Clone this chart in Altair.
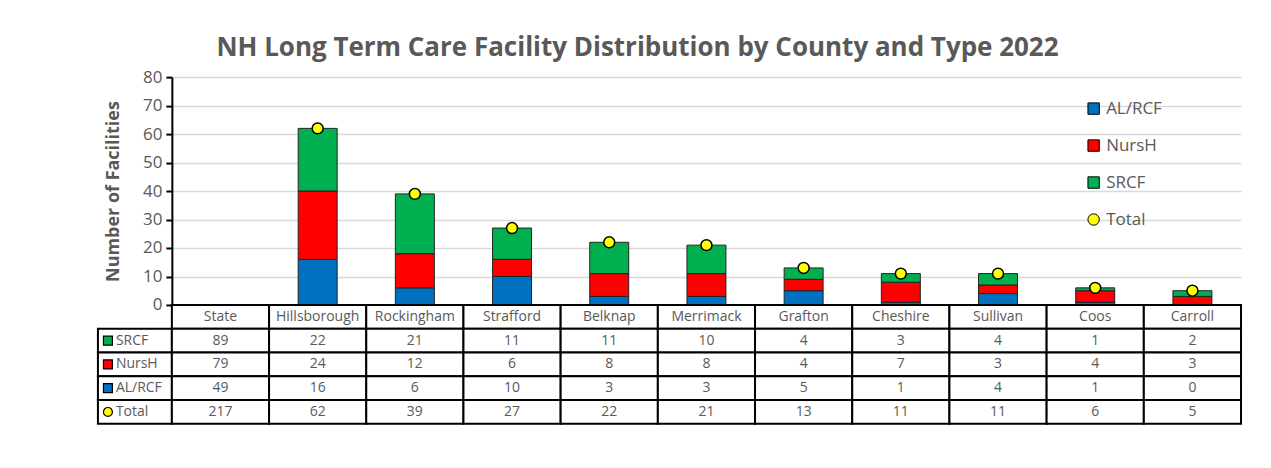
import altair as alt
import pandas as pd

# ---------------- data ----------------
counties = ["State", "Hillsborough", "Rockingham", "Strafford", "Belknap", "Merrimack",
            "Grafton", "Cheshire", "Sullivan", "Coos", "Carroll"]
srcf = [89, 22, 21, 11, 11, 10, 4, 3, 4, 1, 2]
nursh = [79, 24, 12, 6, 8, 8, 4, 7, 3, 4, 3]
alrcf = [49, 16, 6, 10, 3, 3, 5, 1, 4, 1, 0]
total = [217, 62, 39, 27, 22, 21, 13, 11, 11, 6, 5]

types = ["AL/RCF", "NursH", "SRCF"]
legend_items = ["AL/RCF", "NursH", "SRCF", "Total"]
colors = ["#0070C0", "#FF0000", "#00B050", "#FFFF00"]
shapes = ["square", "square", "square", "circle"]
table_rows = ["Header", "SRCF", "NursH", "AL/RCF", "Total"]
y_ticks = [0, 10, 20, 30, 40, 50, 60, 70, 80]

series = {"AL/RCF": alrcf, "NursH": nursh, "SRCF": srcf, "Total": total}

bar_records = []
for i, c in enumerate(counties):
    if c == "State":
        continue
    for k, t in enumerate(types):
        bar_records.append({"county": c, "type": t, "value": series[t][i], "order": k})
bars_df = pd.DataFrame(bar_records)

tot_df = pd.DataFrame({"county": counties, "total": total, "series": "Total"})
tot_df = tot_df[tot_df["county"] != "State"]

cell_records = []
for i, c in enumerate(counties):
    cell_records.append({"county": c, "row": "Header", "text": c})
    for r in ["SRCF", "NursH", "AL/RCF", "Total"]:
        cell_records.append({"county": c, "row": r, "text": str(series[r][i])})
cells_df = pd.DataFrame(cell_records)

label_df = pd.DataFrame({"row": table_rows[1:], "label": table_rows[1:]})

# ---------------- style ----------------
FONT = "Open Sans"
GRAY = "#595959"
W_PLOT = 1070
H_PLOT = 228
W_LAB = 74
H_TAB = 119
H_TOT = H_PLOT + H_TAB

color_scale = alt.Scale(domain=legend_items, range=colors)
shape_scale = alt.Scale(domain=legend_items, range=shapes)
y_scale = alt.Scale(domain=[0, 80], nice=False, range=[H_PLOT, 0])
row_scale = alt.Scale(domain=table_rows, range=[H_PLOT, H_TOT], paddingInner=0, paddingOuter=0)

legend = alt.Legend(
    title=None, orient="none", legendX=914, legendY=23, padding=0,
    labelFont=FONT, labelFontSize=17, labelColor=GRAY, labelOffset=4,
    symbolSize=130, symbolStrokeColor="black", symbolStrokeWidth=1,
    rowPadding=19,
)

x_enc = alt.X("county:N", sort=counties,
              scale=alt.Scale(domain=counties, paddingInner=0, paddingOuter=0), axis=None)

y_axis = alt.Axis(
    values=y_ticks, tickCount=9, labelOverlap=False, grid=True, gridColor="#D9D9D9", gridWidth=1.5,
    domainColor="black", domainWidth=2, tickColor="black", tickWidth=2, tickSize=6,
    labelFont=FONT, labelFontSize=17, labelColor=GRAY, labelPadding=4,
    title="Number of Facilities", titleFont=FONT, titleFontSize=18,
    titleFontWeight="bold", titleColor=GRAY, titlePadding=20,
)

bars = alt.Chart(bars_df).mark_bar(size=39, stroke="#222222", strokeWidth=1).encode(
    x=x_enc,
    y=alt.Y("value:Q", stack="zero", scale=y_scale, axis=y_axis),
    color=alt.Color("type:N", scale=color_scale, legend=legend),
    order=alt.Order("order:Q"),
)

points = alt.Chart(tot_df).mark_point(filled=True, opacity=1, size=120, stroke="black",
                                      strokeWidth=1.5).encode(
    x=x_enc,
    y=alt.Y("total:Q", scale=y_scale, axis=y_axis),
    color=alt.Color("series:N", scale=color_scale, legend=legend),
    shape=alt.Shape("series:N", scale=shape_scale, legend=legend),
)

plot_part = alt.layer(bars, points)

# ---------------- table ----------------
yt = alt.Y("row:N", sort=table_rows, scale=row_scale, axis=None)

cell_rects = alt.Chart(cells_df).mark_rect(fill="white", stroke="black", strokeWidth=2).encode(
    x=x_enc, y=yt)
cell_text = alt.Chart(cells_df).mark_text(font=FONT, fontSize=14, color=GRAY).encode(
    x=x_enc, y=yt, text="text:N")
table_part = alt.layer(cell_rects, cell_text)

right = alt.layer(plot_part, table_part).resolve_scale(y="independent").properties(
    width=W_PLOT, height=H_TOT)

yl = alt.Y("row:N", sort=table_rows, scale=row_scale, axis=None)
lab_rects = alt.Chart(label_df).mark_rect(fill="white", stroke="black", strokeWidth=2).encode(
    y=yl)
lab_icons = alt.Chart(label_df).mark_point(filled=True, opacity=1, size=80, stroke="black",
                                           strokeWidth=1.2).encode(
    x=alt.value(10), y=yl,
    color=alt.Color("label:N", scale=color_scale, legend=None),
    shape=alt.Shape("label:N", scale=shape_scale, legend=None),
)
lab_text = alt.Chart(label_df).mark_text(font=FONT, fontSize=14, color=GRAY, align="left").encode(
    x=alt.value(18), y=yl, text="label:N")
left = alt.layer(lab_rects, lab_icons, lab_text).properties(width=W_LAB, height=H_TOT)

chart = alt.hconcat(left, right, spacing=0, bounds="flush").resolve_scale(
    color="independent", shape="independent"
).properties(
    title=alt.TitleParams(
        text="NH Long Term Care Facility Distribution by County and Type 2022",
        font=FONT, fontSize=26, fontWeight="bold", color=GRAY,
        anchor="middle", dx=-32, offset=7,
    ),
    padding={"left": 88, "top": 26, "right": 20, "bottom": 30},
).configure_view(stroke="transparent")

chart.save("out.html", embed_options={"renderer": "svg", "actions": False})
